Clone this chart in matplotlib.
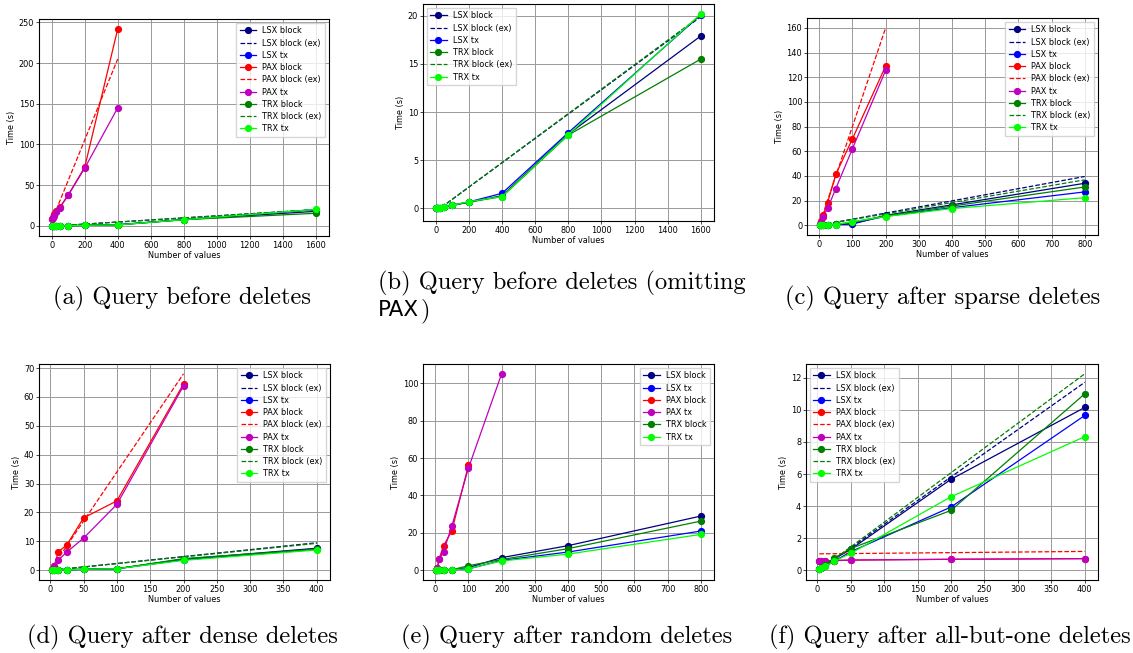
import matplotlib
matplotlib.use("Agg")
import matplotlib.pyplot as plt
from matplotlib.ticker import MultipleLocator

# ---------------- data ----------------
# (a)/(b) Query before deletes
x_before = [3, 6, 12, 25, 50, 100, 200, 400, 800, 1600]
x_before_pax = [3, 6, 12, 25, 50, 100, 200, 400]
before_lsx_block = [0.02, 0.03, 0.05, 0.07, 0.15, 0.3, 0.62, 1.3, 7.7, 17.9]
before_lsx_tx = [0.02, 0.03, 0.05, 0.07, 0.17, 0.32, 0.66, 1.55, 7.85, 20.1]
before_trx_block = [0.02, 0.03, 0.05, 0.07, 0.16, 0.3, 0.66, 1.2, 7.6, 15.5]
before_trx_tx = [0.02, 0.03, 0.05, 0.07, 0.17, 0.31, 0.69, 1.21, 7.65, 20.2]
before_pax_block = [9, 11, 14, 18, 23, 38, 72, 242]
before_pax_tx = [8, 10, 12.5, 16.5, 22.5, 37.5, 71, 145]
before_ex_x = [3, 1600]
before_lsx_ex = [-0.3, 19.9]
before_trx_ex = [-0.3, 20.0]
before_pax_ex_x = [12, 400]
before_pax_ex = [12, 205]

# (c) Query after sparse deletes
x_sparse = [3, 6, 12, 25, 50, 100, 200, 400, 800]
x_sparse_pax = [3, 6, 12, 25, 50, 100, 200]
sparse_lsx_block = [0.05, 0.1, 0.2, 0.4, 0.6, 0.9, 8.0, 16.5, 34]
sparse_lsx_tx = [0.05, 0.1, 0.2, 0.35, 0.5, 1.5, 7.2, 14.2, 27]
sparse_trx_block = [0.05, 0.1, 0.2, 0.4, 0.6, 2.5, 7.5, 15.5, 31]
sparse_trx_tx = [0.05, 0.1, 0.2, 0.35, 0.5, 2.8, 7.0, 13.5, 22.3]
sparse_pax_block = [1.0, 3.0, 8.2, 18.2, 41.2, 70, 129]
sparse_pax_tx = [0.8, 2.5, 7.0, 13.6, 29.7, 62, 125.5]
sparse_ex_x = [3, 800]
sparse_lsx_ex = [0.1, 39.5]
sparse_trx_ex = [0.1, 36.8]
sparse_pax_ex_x = [3, 200]
sparse_pax_ex = [2.4, 160]

# (d) Query after dense deletes
x_dense = [3, 6, 12, 25, 50, 100, 200, 400]
x_dense_pax = [3, 6, 12, 25, 50, 100, 200]
dense_lsx_block = [0.05, 0.08, 0.1, 0.15, 0.3, 0.5, 3.8, 7.6]
dense_lsx_tx = [0.05, 0.08, 0.1, 0.15, 0.3, 0.5, 3.6, 7.2]
dense_trx_block = [0.05, 0.08, 0.1, 0.15, 0.3, 0.5, 4.0, 7.3]
dense_trx_tx = [0.05, 0.08, 0.1, 0.15, 0.3, 0.5, 3.4, 7.0]
dense_pax_block = [0.5, 1.5, 6.3, 8.8, 18.1, 24, 64.5]
dense_pax_tx = [0.2, 1.4, 3.5, 6.3, 11.1, 22.8, 63.8]
dense_ex_x = [3, 400]
dense_lsx_ex = [0.0, 9.5]
dense_trx_ex = [0.0, 9.3]
dense_pax_ex_x = [3, 200]
dense_pax_ex = [1.0, 68]

# (e) Query after random deletes
x_random = [3, 6, 12, 25, 50, 100, 200, 400, 800]
x_random_pax_block = [3, 6, 12, 25, 50, 100]
x_random_pax_tx = [3, 6, 12, 25, 50, 100, 200]
random_lsx_block = [0.1, 0.1, 0.1, 0.15, 0.3, 1.5, 6.8, 13.2, 29]
random_lsx_tx = [0.1, 0.1, 0.1, 0.15, 0.3, 0.8, 5.3, 9.8, 21]
random_trx_block = [0.1, 0.1, 0.1, 0.15, 0.3, 2.5, 5.8, 11.6, 26.3]
random_trx_tx = [0.1, 0.1, 0.1, 0.15, 0.3, 0.9, 5.0, 8.7, 19.2]
random_pax_block = [0.3, 1.0, 6.2, 13.2, 21, 56.2]
random_pax_tx = [0.3, 1.0, 6.0, 10.0, 23.7, 54.6, 105]

# (f) Query after all-but-one deletes
x_allbut = [3, 6, 12, 25, 50, 200, 400]
allbut_lsx_block = [0.05, 0.15, 0.3, 0.7, 1.3, 5.67, 10.15]
allbut_lsx_tx = [0.05, 0.12, 0.25, 0.55, 1.15, 3.94, 9.65]
allbut_trx_block = [0.05, 0.15, 0.3, 0.75, 1.35, 3.73, 11.0]
allbut_trx_tx = [0.05, 0.12, 0.25, 0.55, 1.05, 4.58, 8.33]
allbut_pax_block = [0.55, 0.55, 0.57, 0.6, 0.63, 0.68, 0.72]
allbut_pax_tx = [0.55, 0.57, 0.58, 0.6, 0.63, 0.68, 0.72]
allbut_ex_x = [3, 400]
allbut_lsx_ex = [0.0, 11.72]
allbut_trx_ex = [0.0, 12.25]
allbut_pax_ex = [1.02, 1.17]

captions = ["(a) Query before deletes",
            "(b) Query before deletes (omitting",
            "(c) Query after sparse deletes",
            "(d) Query after dense deletes",
            "(e) Query after random deletes",
            "(f) Query after all-but-one deletes"]

# ---------------- style ----------------
FS = 5.85
LW = 0.9
MS = 4.2
C = {"LSX block": "navy", "LSX tx": "blue", "PAX block": "red",
     "PAX tx": "m", "TRX block": "green", "TRX tx": "lime"}

W, H = 1133, 653
fig = plt.figure(figsize=(W / 100, H / 100), dpi=100)


def add_ax(l, r, t, b):
    return fig.add_axes([l / W, 1 - b / H, (r - l) / W, (b - t) / H])


def solid(ax, x, y, name):
    ax.plot(x, y, "-o", color=C[name], lw=LW, ms=MS, label=name)


def dashed(ax, x, y, name):
    ax.plot(x, y, "--", color=C[name], lw=LW, label=name + " (ex)")


def finish(ax, xstep, ystep, loc):
    ax.grid(True, color="#999999", lw=0.7)
    ax.set_axisbelow(True)
    ax.xaxis.set_major_locator(MultipleLocator(xstep))
    ax.yaxis.set_major_locator(MultipleLocator(ystep))
    ax.tick_params(labelsize=FS, length=2, width=0.5, pad=1.5)
    ax.set_xlabel("Number of values", fontsize=FS, labelpad=1)
    ax.set_ylabel("Time (s)", fontsize=FS, labelpad=2)
    for s in ax.spines.values():
        s.set_linewidth(0.8)
    ax.legend(loc=loc, fontsize=FS, handlelength=2.0, labelspacing=0.4,
              borderpad=0.4, framealpha=0.8, edgecolor="#cccccc",
              fancybox=False)


# (a)
ax = add_ax(39, 329, 19, 236)
solid(ax, x_before, before_lsx_block, "LSX block")
dashed(ax, before_ex_x, before_lsx_ex, "LSX block")
solid(ax, x_before, before_lsx_tx, "LSX tx")
solid(ax, x_before_pax, before_pax_block, "PAX block")
dashed(ax, before_pax_ex_x, before_pax_ex, "PAX block")
solid(ax, x_before_pax, before_pax_tx, "PAX tx")
solid(ax, x_before, before_trx_block, "TRX block")
dashed(ax, before_ex_x, before_trx_ex, "TRX block")
solid(ax, x_before, before_trx_tx, "TRX tx")
finish(ax, 200, 50, "upper right")

# (b)
ax = add_ax(423, 714, 4, 221)
solid(ax, x_before, before_lsx_block, "LSX block")
dashed(ax, before_ex_x, before_lsx_ex, "LSX block")
solid(ax, x_before, before_lsx_tx, "LSX tx")
solid(ax, x_before, before_trx_block, "TRX block")
dashed(ax, before_ex_x, before_trx_ex, "TRX block")
solid(ax, x_before, before_trx_tx, "TRX tx")
finish(ax, 200, 5, "upper left")

# (c)
ax = add_ax(807, 1098, 18, 235)
solid(ax, x_sparse, sparse_lsx_block, "LSX block")
dashed(ax, sparse_ex_x, sparse_lsx_ex, "LSX block")
solid(ax, x_sparse, sparse_lsx_tx, "LSX tx")
solid(ax, x_sparse_pax, sparse_pax_block, "PAX block")
dashed(ax, sparse_pax_ex_x, sparse_pax_ex, "PAX block")
solid(ax, x_sparse_pax, sparse_pax_tx, "PAX tx")
solid(ax, x_sparse, sparse_trx_block, "TRX block")
dashed(ax, sparse_ex_x, sparse_trx_ex, "TRX block")
solid(ax, x_sparse, sparse_trx_tx, "TRX tx")
finish(ax, 100, 20, "upper right")

# (d)
ax = add_ax(39, 330, 364, 580)
solid(ax, x_dense, dense_lsx_block, "LSX block")
dashed(ax, dense_ex_x, dense_lsx_ex, "LSX block")
solid(ax, x_dense, dense_lsx_tx, "LSX tx")
solid(ax, x_dense_pax, dense_pax_block, "PAX block")
dashed(ax, dense_pax_ex_x, dense_pax_ex, "PAX block")
solid(ax, x_dense_pax, dense_pax_tx, "PAX tx")
solid(ax, x_dense, dense_trx_block, "TRX block")
dashed(ax, dense_ex_x, dense_trx_ex, "TRX block")
solid(ax, x_dense, dense_trx_tx, "TRX tx")
finish(ax, 50, 10, "upper right")

# (e)
ax = add_ax(423, 714, 364, 580)
solid(ax, x_random, random_lsx_block, "LSX block")
solid(ax, x_random, random_lsx_tx, "LSX tx")
solid(ax, x_random_pax_block, random_pax_block, "PAX block")
solid(ax, x_random_pax_tx, random_pax_tx, "PAX tx")
solid(ax, x_random, random_trx_block, "TRX block")
solid(ax, x_random, random_trx_tx, "TRX tx")
finish(ax, 100, 20, "upper right")

# (f)
ax = add_ax(806, 1098, 364, 580)
solid(ax, x_allbut, allbut_lsx_block, "LSX block")
dashed(ax, allbut_ex_x, allbut_lsx_ex, "LSX block")
solid(ax, x_allbut, allbut_lsx_tx, "LSX tx")
solid(ax, x_allbut, allbut_pax_block, "PAX block")
dashed(ax, allbut_ex_x, allbut_pax_ex, "PAX block")
solid(ax, x_allbut, allbut_pax_tx, "PAX tx")
solid(ax, x_allbut, allbut_trx_block, "TRX block")
dashed(ax, allbut_ex_x, allbut_trx_ex, "TRX block")
solid(ax, x_allbut, allbut_trx_tx, "TRX tx")
finish(ax, 50, 2, "upper left")

# captions
CF = dict(fontsize=17.6, family="cmr10", va="baseline")
fig.text(182 / W, 1 - 304 / H, captions[0], ha="center", **CF)
fig.text(378 / W, 1 - 289 / H, captions[1], ha="left", **CF)
t = fig.text(378 / W, 1 - 316 / H, "PAX", ha="left", fontsize=15.5,
             family="DejaVu Sans", va="baseline")
fig.canvas.draw()
bb = t.get_window_extent(fig.canvas.get_renderer())
fig.text(bb.x1 / W + 1 / W, 1 - 316 / H, ")", ha="left", **CF)
fig.text(943 / W, 1 - 304 / H, captions[2], ha="center", **CF)
fig.text(182 / W, 1 - 643 / H, captions[3], ha="center", **CF)
fig.text(567 / W, 1 - 643 / H, captions[4], ha="center", **CF)
fig.text(950 / W, 1 - 643 / H, captions[5], ha="center", **CF)

fig.savefig("out.png", dpi=100)
